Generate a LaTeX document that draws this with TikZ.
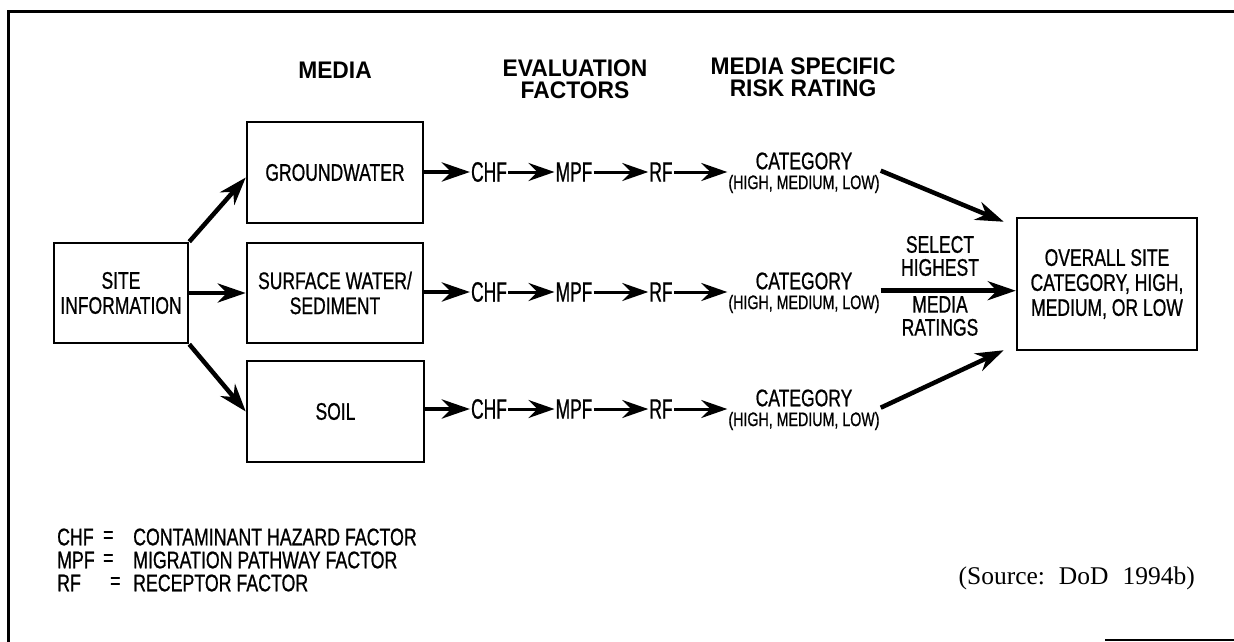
\documentclass[tikz,border=0pt]{standalone}
\usepackage{fontspec}
\setmainfont{Liberation Sans}
\newfontfamily\bodyf{Liberation Sans}[FakeStretch=0.73,FakeBold=0.8]
\newfontfamily\legf{Liberation Sans}[FakeStretch=0.74,FakeBold=0.8]
\newfontfamily\factf{Liberation Sans}[FakeStretch=0.62,FakeBold=0.8]
\newfontfamily\headf{Liberation Sans}[FakeStretch=0.95]
\newfontfamily\srcf{Liberation Serif}
\usetikzlibrary{arrows.meta}
\begin{document}
\begin{tikzpicture}[x=1pt,y=-1pt,
  box/.style={draw, line width=2.5pt, inner sep=0pt, align=center,
    font=\bodyf\fontsize{24}{25}\selectfont},
  head/.style={align=center, inner sep=0pt, font=\headf\bfseries\fontsize{24}{22.5}\selectfont},
  fact/.style={inner sep=1pt, font=\factf\fontsize{28}{29}\selectfont},
  catn/.style={inner sep=1pt, font=\bodyf\fontsize{24}{25}\selectfont},
  hml/.style={inner sep=1pt, font=\bodyf\fontsize{19.5}{20}\selectfont},
  sellbl/.style={align=center, inner sep=0pt, font=\bodyf\fontsize{24}{23}\selectfont},
  leg/.style={anchor=west, inner sep=0pt, font=\legf\fontsize{24}{24}\selectfont},
  bigarr/.style={line width=4.5pt, -{Stealth[length=28pt,width=19pt,inset=9pt]}},
  smarr/.style={line width=3pt, -{Stealth[length=26pt,width=18pt,inset=9pt]}}
]
\useasboundingbox (0,0) rectangle (1234,642);
% frame
\draw[line width=3pt] (8,642) -- (8,12) -- (1234,12);
\draw[line width=2pt] (1105,640) -- (1234,640);
% headings
\node[head] (hmedia) at (335,70) {MEDIA};
\node[head] (heval) at (575,79) {EVALUATION\\FACTORS};
\node[head] (hrisk) at (803,77) {MEDIA SPECIFIC\\RISK RATING};
% boxes
\node[box, minimum width=134pt, minimum height=100pt] (site) at (121,293) {SITE\\INFORMATION};
\node[box, minimum width=176pt, minimum height=101pt] (gw) at (335,172.5) {GROUNDWATER};
\node[box, minimum width=176pt, minimum height=100pt] (sw) at (335,293) {SURFACE WATER/\\SEDIMENT};
\node[box, minimum width=177pt, minimum height=101pt] (soil) at (335.5,411.5) {SOIL};
\node[box, minimum width=180pt, minimum height=132pt] (ov) at (1107,284) {OVERALL SITE\\CATEGORY, HIGH,\\MEDIUM, OR LOW};
% site arrows
\draw[bigarr] (site.north east) -- ([yshift=-5pt]gw.west);
\draw[bigarr] (site.east) -- (sw.west);
\draw[bigarr] (site.south east) -- (soil.west);
% factor rows
\foreach \r/\y/\b in {1/172/gw,2/292/sw,3/409/soil}{
  \node[fact] (chf\r) at (489,\y) {CHF};
  \node[fact] (mpf\r) at (574,\y) {MPF};
  \node[fact] (rf\r) at (661,\y) {RF};
  \node[catn] (cat\r) at (804,\y-11) {CATEGORY};
  \node[hml] (hml\r) at (804,\y+12) {(HIGH, MEDIUM, LOW)};
  \draw[bigarr] (\b.east |- chf\r.west) -- (chf\r.west);
  \draw[smarr] (chf\r.east) -- (mpf\r.west);
  \draw[smarr] (mpf\r.east) -- (rf\r.west);
  \draw[smarr] (rf\r.east) -- (rf\r.east -| hml\r.west);
}
% to overall
\draw[bigarr] (cat1.south -| hml1.east) -- ([xshift=-12pt,yshift=-5pt]ov.north west);
\draw[bigarr] (cat2.south -| hml2.east) -- (cat2.south -| ov.west);
\draw[bigarr] (cat3.south -| hml3.east) -- ([xshift=-12pt,yshift=1pt]ov.south west);
\node[sellbl] (sel) at (940,256) {SELECT\\HIGHEST};
\node[sellbl] (med) at (940,316) {MEDIA\\RATINGS};
% legend
\node[leg] (la1) at (57,537) {CHF};
\node[leg] (lb1) at (103,537) {=};
\node[leg] (lc1) at (133,537) {CONTAMINANT HAZARD FACTOR};
\node[leg] (la2) at (57,560) {MPF};
\node[leg] (lb2) at (103,560) {=};
\node[leg] (lc2) at (133,560) {MIGRATION PATHWAY FACTOR};
\node[leg] (la3) at (57,583) {RF};
\node[leg] (lb3) at (110,583) {=};
\node[leg] (lc3) at (133,583) {RECEPTOR FACTOR};
% source
\node[anchor=east, inner sep=0pt, font=\srcf\fontsize{25.5}{27}\selectfont] (src) at (1195,578) {(Source:\hspace{14pt}DoD\hspace{14pt}1994b)};
\end{tikzpicture}
\end{document}
